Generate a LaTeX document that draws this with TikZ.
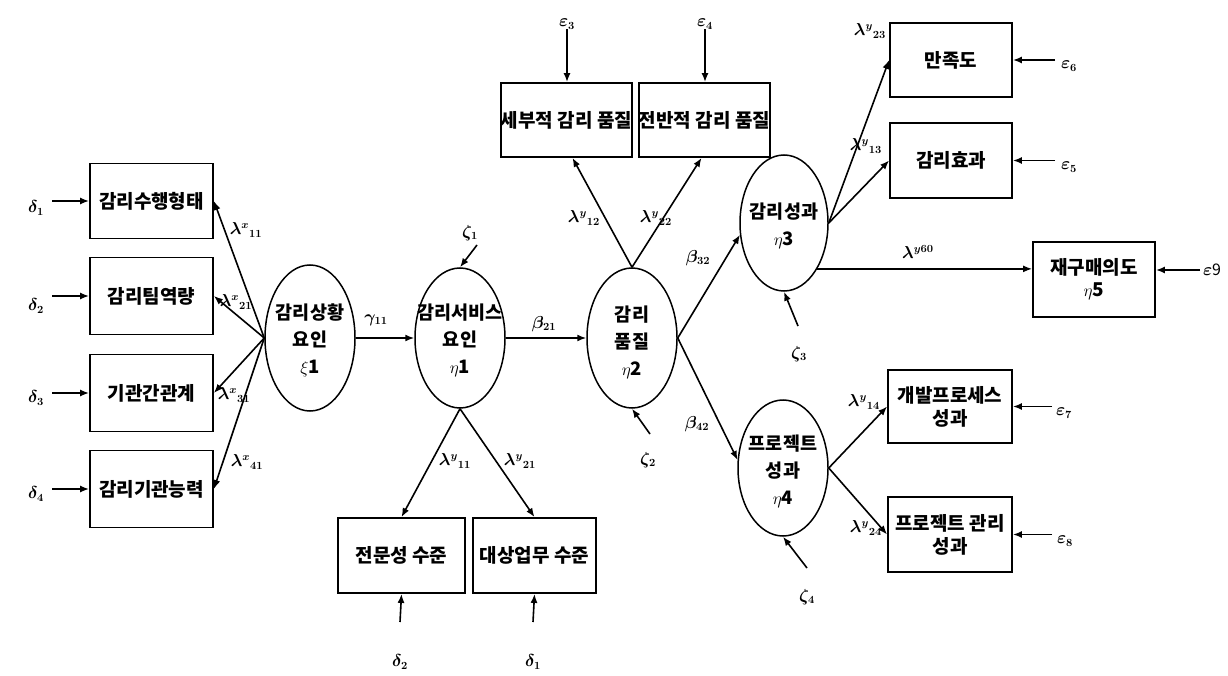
\documentclass[tikz,border=0pt]{standalone}
\usepackage{fontspec}
\setmainfont{Noto Sans CJK KR}
\usetikzlibrary{shapes.geometric,arrows.meta}
\begin{document}
\begin{tikzpicture}[x=1pt,y=-1pt,
  box/.style={draw,line width=1.8pt,inner sep=0pt,font=\fontsize{19}{23}\selectfont\bfseries,align=center},
  lat/.style={draw,ellipse,line width=1.5pt,inner sep=0pt},
  lattext/.style={font=\fontsize{18.5}{27}\selectfont\bfseries,align=center,inner sep=0pt},
  arr/.style={line width=1.6pt,-{Latex[length=9pt,width=7pt]}},
  lab/.style={font=\fontsize{16}{16}\selectfont\boldmath,inner sep=0pt},
]
\useasboundingbox (0,0) rectangle (1228,676);

% left indicator boxes
\node[box,minimum width=123pt,minimum height=75pt] (lb1) at (151.5,201) {감리수행형태};
\node[box,minimum width=123pt,minimum height=77pt] (lb2) at (151.5,296) {감리팀역량};
\node[box,minimum width=123pt,minimum height=77pt] (lb3) at (151.5,393) {기관간관계};
\node[box,minimum width=123pt,minimum height=77pt] (lb4) at (151.5,489) {감리기관능력};

% latent variables
\node[lat,minimum width=90pt,minimum height=146pt] (xi1) at (310,338) {};
\node[lattext] (xi1t) at (310,340) {감리상황\\요인\\$\xi$1};
\node[lat,minimum width=90pt,minimum height=140pt] (eta1) at (460,338) {};
\node[lattext] (eta1t) at (460,340) {감리서비스\\요인\\$\eta$1};
\node[lat,minimum width=90pt,minimum height=140pt] (eta2) at (632,338) {};
\node[lattext] (eta2t) at (632,342) {감리\\품질\\$\eta$2};
\node[lat,minimum width=88pt,minimum height=136pt] (eta3) at (784,223) {};
\node[lattext] (eta3t) at (784,226) {감리성과\\$\eta$3};
\node[lat,minimum width=90pt,minimum height=136pt] (eta4) at (783,468) {};
\node[lattext] (eta4t) at (783,471) {프로젝트\\성과\\$\eta$4};

% top boxes
\node[box,minimum width=127pt,minimum height=74pt] (tb1) at (566.5,120) {세부적 감리 품질};
\node[box,minimum width=123pt,minimum height=74pt] (tb2) at (704.5,120) {전반적 감리 품질};

% bottom boxes
\node[box,minimum width=127pt,minimum height=75pt] (bb1) at (401.5,555.5) {전문성 수준};
\node[box,minimum width=123pt,minimum height=75pt] (bb2) at (534.5,555.5) {대상업무 수준};

% right boxes
\node[box,minimum width=122pt,minimum height=74pt] (rb1) at (951,60) {만족도};
\node[box,minimum width=122pt,minimum height=75pt] (rb2) at (951,160.5) {감리효과};
\node[box,minimum width=122pt,minimum height=75pt,font=\fontsize{19}{24}\selectfont\bfseries] (rb5) at (1094,279.5) {재구매의도\\[-2pt]$\eta$5};
\node[box,minimum width=124pt,minimum height=73pt] (rb3) at (950,406.5) {개발프로세스\\성과};
\node[box,minimum width=124pt,minimum height=75pt] (rb4) at (950,534.5) {프로젝트 관리\\성과};

% xi1 -> left boxes
\draw[arr] (xi1.west) -- (lb1.east);
\draw[arr] (xi1.west) -- (lb2.east);
\draw[arr] (xi1.west) -- (lb3.east);
\draw[arr] (xi1.west) -- (lb4.east);
\node[lab] (lx11) at (246,230) {$\lambda^{x}{}_{11}$};
\node[lab] (lx21) at (236,302) {$\lambda^{x}{}_{21}$};
\node[lab] (lx31) at (234,395) {$\lambda^{x}{}_{31}$};
\node[lab] (lx41) at (247,462) {$\lambda^{x}{}_{41}$};

% delta left
\node[lab] (d1) at (36,208) {$\delta_1$};
\node[lab] (d2) at (36,306) {$\delta_2$};
\node[lab] (d3) at (36,398) {$\delta_3$};
\node[lab] (d4) at (36,494) {$\delta_4$};
\coordinate (d1s) at (52,201);
\coordinate (d2s) at (52,296);
\coordinate (d3s) at (52,393);
\coordinate (d4s) at (52,489);
\draw[arr] (d1s) -- (lb1.west);
\draw[arr] (d2s) -- (lb2.west);
\draw[arr] (d3s) -- (lb3.west);
\draw[arr] (d4s) -- (lb4.west);

% structural paths
\draw[arr] (xi1.east) -- (eta1.west);
\node[lab] (g11) at (376,320) {$\gamma_{11}$};
\draw[arr] (eta1.east) -- (eta2.west);
\node[lab] (b21) at (544,324) {$\beta_{21}$};
\draw[arr] (eta2.east) -- (eta3.195);
\node[lab] (b32) at (698,258) {$\beta_{32}$};
\draw[arr] (eta2.east) -- (eta4.170);
\node[lab] (b42) at (697,424) {$\beta_{42}$};

% eta1 -> bottom boxes
\draw[arr] (eta1.south) -- (bb1.north);
\draw[arr] (eta1.south) -- (bb2.north);
\node[lab] (ly11) at (455,461) {$\lambda^{y}{}_{11}$};
\node[lab] (ly21) at (520,461) {$\lambda^{y}{}_{21}$};
\node[lab] (dd2) at (400,662) {$\delta_2$};
\node[lab] (dd1) at (533,662) {$\delta_1$};
\coordinate (dd2s) at (400,622);
\coordinate (dd1s) at (533,622);
\draw[arr] (dd2s) -- (bb1.south);
\draw[arr] (dd1s) -- (bb2.south);

% eta2 -> top boxes
\draw[arr] (eta2.north) -- ([xshift=6pt]tb1.south);
\draw[arr] (eta2.north) -- ([xshift=-3pt]tb2.south);
\node[lab] (ly12) at (584,218) {$\lambda^{y}{}_{12}$};
\node[lab] (ly22) at (656,218) {$\lambda^{y}{}_{22}$};
\node[lab] (e3) at (567,24) {$\varepsilon_3$};
\node[lab] (e4) at (705,24) {$\varepsilon_4$};
\draw[arr] (e3) -- (e3 |- tb1.north);
\draw[arr] (e4) -- (e4 |- tb2.north);

% eta3 -> right boxes
\draw[arr] (eta3.east) -- (rb1.west);
\draw[arr] (eta3.east) -- (rb2.west);
\node[lab] (ly23) at (870,31) {$\lambda^{y}{}_{23}$};
\node[lab] (ly13) at (866,146) {$\lambda^{y}{}_{13}$};
\draw[arr] (eta3.-54) -- (eta3.-54 -| rb5.west);
\node[lab] (ly60) at (918,252) {$\lambda^{y60}$};

% eta4 -> right boxes
\draw[arr] (eta4.east) -- (rb3.west);
\draw[arr] (eta4.east) -- (rb4.west);
\node[lab] (ly14) at (864,402) {$\lambda^{y}{}_{14}$};
\node[lab] (ly24) at (866,528) {$\lambda^{y}{}_{24}$};

% epsilon right
\node[lab] (e6) at (1069,66) {$\varepsilon_6$};
\node[lab] (e5) at (1069,167) {$\varepsilon_5$};
\node[lab] (e9) at (1212,270) {$\varepsilon$9};
\node[lab] (e7) at (1064,413) {$\varepsilon_7$};
\node[lab] (e8) at (1065,541) {$\varepsilon_8$};
\coordinate (e6s) at (1055,60);
\coordinate (e5s) at (1055,160.5);
\coordinate (e9s) at (1200,270);
\coordinate (e7s) at (1052,406.5);
\coordinate (e8s) at (1052,534.5);
\draw[arr] (e6s) -- (rb1.east);
\draw[arr] (e5s) -- (rb2.east);
\draw[arr] (e9s) -- (e9s -| rb5.east);
\draw[arr] (e7s) -- (rb3.east);
\draw[arr] (e8s) -- (rb4.east);

% zeta disturbances
\node[lab] (z1) at (470,233) {$\zeta_1$};
\coordinate (z1s) at (477,245);
\draw[arr] (z1s) -- (eta1.north);
\node[lab] (z2) at (648,460) {$\zeta_2$};
\coordinate (z2s) at (650,434);
\draw[arr] (z2s) -- (eta2.south);
\node[lab] (z3) at (799,354) {$\zeta_3$};
\coordinate (z3s) at (798,326);
\draw[arr] (z3s) -- (eta3.south);
\node[lab] (z4) at (807,597) {$\zeta_4$};
\coordinate (z4s) at (807,568);
\draw[arr] (z4s) -- (eta4.south);
\end{tikzpicture}
\end{document}
